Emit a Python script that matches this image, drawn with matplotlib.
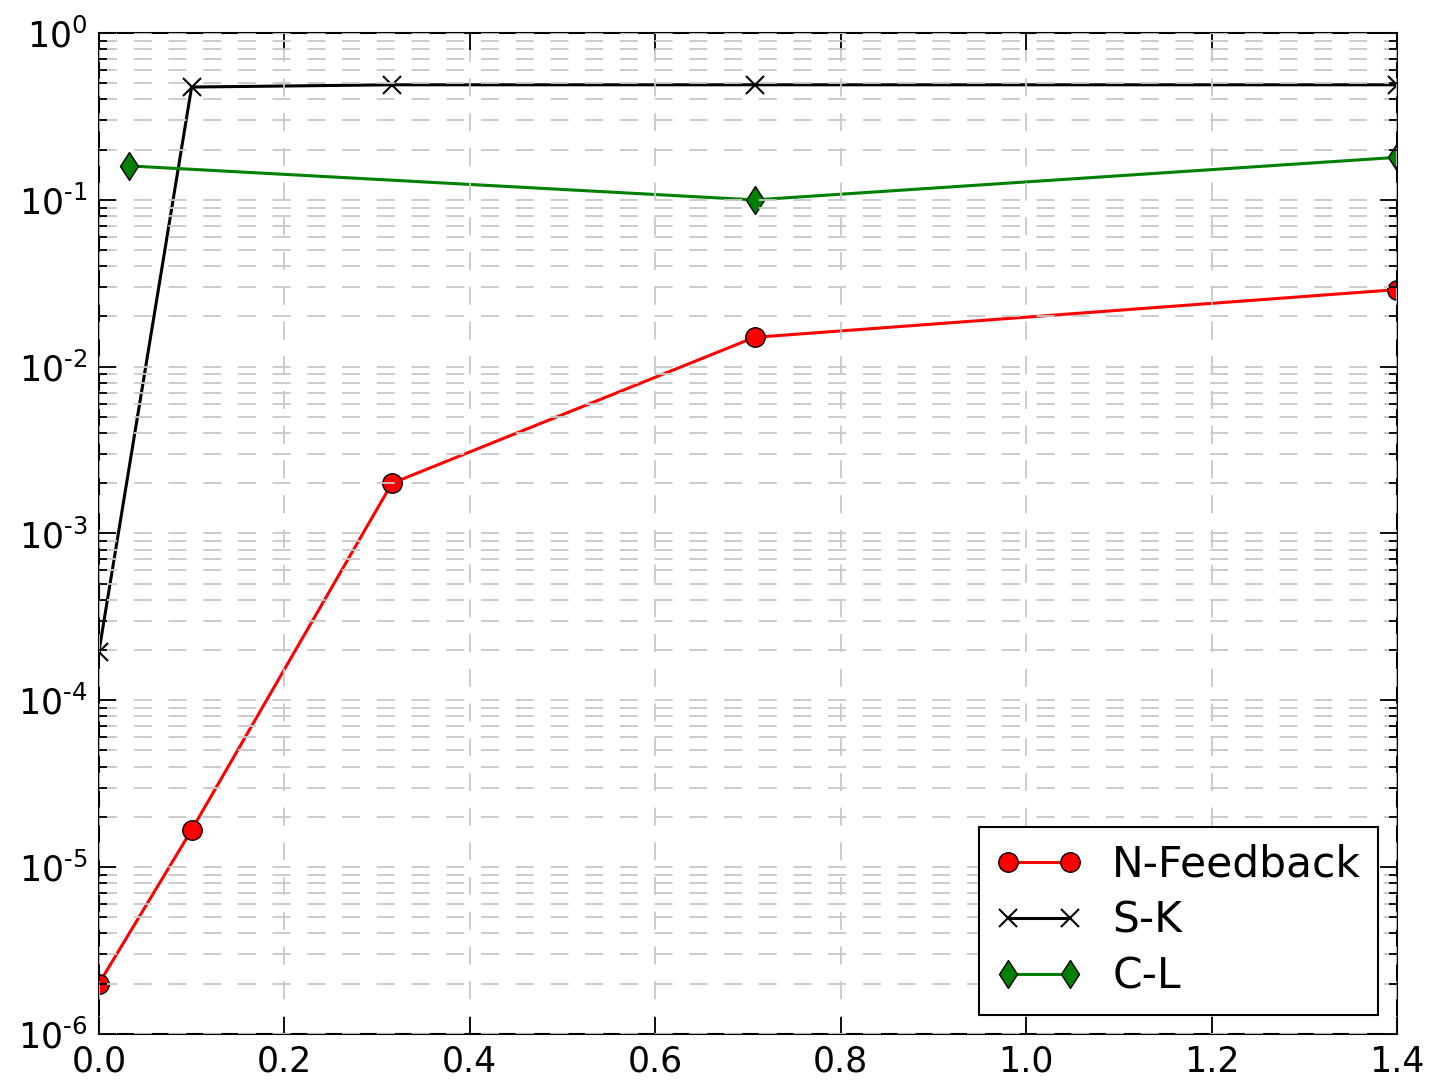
import matplotlib
matplotlib.use("Agg")
import matplotlib.pyplot as plt
from matplotlib.ticker import FuncFormatter
import numpy as np

# values
x_nf = [0.0, 0.1, 0.316, 0.707, 1.4]
y_nf = [2.0e-6, 1.67e-5, 2.0e-3, 1.5e-2, 2.9e-2]

x_sk = [0.0, 0.1, 0.316, 0.707, 1.4]
y_sk = [1.95e-4, 0.475, 0.49, 0.49, 0.49]

x_cl = [0.032, 0.707, 1.4]
y_cl = [0.16, 0.10, 0.18]

labels = ['N-Feedback', 'S-K', 'C-L']

plt.rcParams['font.family'] = ['DejaVu Sans']
plt.rcParams['mathtext.default'] = 'regular'
plt.rcParams['lines.scale_dashes'] = False


def log_fmt(v, pos):
    n = int(round(np.log10(v)))
    s = str(abs(n))
    if n < 0:
        s = '\u2010' + s
    return '$10^{%s}$' % s


fig = plt.figure(figsize=(14.33, 10.86), dpi=100)
ax = fig.add_axes([0.069, 0.048, 0.906, 0.9215])

ax.plot(x_nf, y_nf, color='red', marker='o', ms=14, mec='black', mew=1.0, lw=2.2, label=labels[0])
ax.plot(x_sk, y_sk, color='black', marker='x', ms=13.5, mew=1.5, lw=2.2, label=labels[1])
ax.plot(x_cl, y_cl, color='green', marker='d', ms=14.5, mec='black', mew=1.0, lw=2.2, label=labels[2])

ax.set_yscale('log')
ax.set_xlim(0, 1.4)
ax.set_ylim(1e-6, 1e0)
ax.set_xticks(np.arange(0, 1.41, 0.2))
ax.yaxis.set_major_formatter(FuncFormatter(log_fmt))

ax.set_axisbelow(False)
ax.grid(True, which='major', color='#c8c8c8', lw=1.3, linestyle=(0, (13, 12)))
ax.grid(True, which='minor', axis='y', color='#c8c8c8', lw=1.3, linestyle=(0, (13, 12)))

ax.tick_params(which='both', direction='in', top=True, right=True, labelsize=25, width=1.3)
ax.tick_params(which='major', length=12, pad=8)
ax.tick_params(which='minor', length=6)
ax.tick_params(axis='x', which='minor', bottom=False, top=False)
for s in ax.spines.values():
    s.set_linewidth(1.5)

leg = ax.legend(loc='lower right', fontsize=30.5, numpoints=2, handlelength=2.05,
                fancybox=False, framealpha=1, edgecolor='black',
                borderpad=0.4, labelspacing=0.33, handletextpad=0.7,
                borderaxespad=0.45)
leg.get_frame().set_linewidth(1.5)

fig.savefig('out.png', dpi=100)
